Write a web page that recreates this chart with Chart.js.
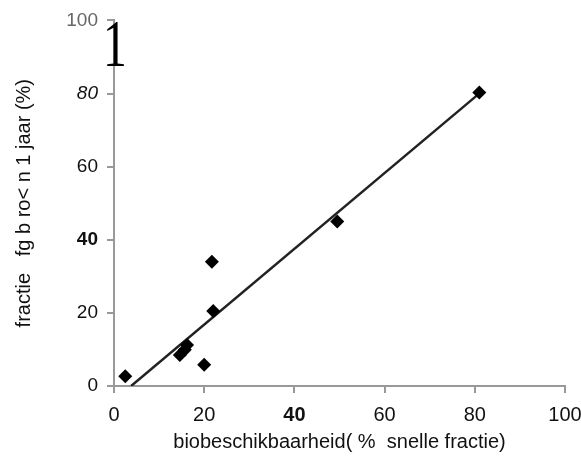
<!DOCTYPE html>
<html>
<head>
  <title>Biobeschikbaarheid</title>
  <script src="https://cdn.jsdelivr.net/npm/chart.js"></script>
  <style>
    html, body { margin: 0; padding: 0; background: #fff; }
  </style>
</head>
<body>
  <canvas id="chart" width="581" height="460"></canvas>
  <script>
    // meetpunten: biobeschikbaarheid (x) tegen fractie afgebroken (y)
    const bioX = [2.5, 14.6, 15.7, 16.2, 20, 21.7, 22, 49.5, 81];
    const fractieY = [2.7, 8.5, 9.9, 11.2, 5.8, 34, 20.5, 45, 80.3];

    // regressielijn, begin- en eindpunt
    const lijnX = [3.8, 80.5];
    const lijnY = [0, 79.5];

    const ticks = [0, 20, 40, 60, 80, 100];

    const punten = bioX.map((x, i) => ({ x: x, y: fractieY[i] }));
    const lijn = lijnX.map((x, i) => ({ x: x, y: lijnY[i] }));

    const family = '"Liberation Sans", Arial, sans-serif';

    // de losse "1" bovenaan de y-as
    const topMark = {
      id: 'topMark',
      afterDraw(chart) {
        const c = chart.ctx;
        const y = chart.scales.y;
        c.save();
        c.translate(y.right + 1, 66);
        c.scale(0.7, 1);
        c.fillStyle = '#000';
        c.font = '68px "Liberation Serif", "Times New Roman", serif';
        c.textAlign = 'center';
        c.textBaseline = 'alphabetic';
        c.fillText('1', 0, 0);
        c.restore();
      }
    };

    const ctx = document.getElementById('chart').getContext('2d');
    const chart = new Chart(ctx, {
      type: 'scatter',
      data: {
        datasets: [{
          data: punten,
          pointStyle: 'rectRot',
          pointRadius: 7,
          backgroundColor: '#000',
          borderColor: '#000',
          borderWidth: 0
        }, {
          type: 'line',
          data: lijn,
          borderColor: '#222',
          borderWidth: 2.5,
          pointRadius: 0,
          fill: false
        }]
      },
      options: {
        responsive: false,
        animation: false,
        layout: { padding: { top: 20, right: 0, left: 0, bottom: 0 } },
        plugins: { legend: { display: false }, tooltip: { enabled: false } },
        scales: {
          x: {
            type: 'linear',
            min: 0, max: 100,
            afterBuildTicks: (s) => { s.ticks = ticks.map(v => ({ value: v })); },
            afterFit: (s) => { s.height = 74; s.paddingRight = 16; },
            grid: { drawOnChartArea: false, color: '#999', lineWidth: 2, tickLength: 7 },
            border: { color: '#999', width: 2 },
            ticks: {
              color: '#111',
              padding: 10,
              font: (c) => ({
                family: family, size: 20,
                weight: c.tick && c.tick.value === 40 ? 'bold' : 'normal'
              })
            },
            title: {
              display: true,
              text: 'biobeschikbaarheid( %  snelle fractie)',
              color: '#111',
              font: { family: family, size: 20 },
              padding: { top: 0, bottom: 6 }
            }
          },
          y: {
            type: 'linear',
            min: 0, max: 100,
            afterBuildTicks: (s) => { s.ticks = ticks.map(v => ({ value: v })); },
            afterFit: (s) => { s.width = 114; },
            grid: { drawOnChartArea: false, color: '#999', lineWidth: 2, tickLength: 7 },
            border: { color: '#999', width: 2 },
            ticks: {
              color: (c) => c.tick && c.tick.value === 100 ? '#666' : '#111',
              padding: 9,
              font: (c) => {
                const v = c.tick ? c.tick.value : 0;
                return {
                  family: family,
                  size: 19,
                  weight: v === 40 ? 'bold' : 'normal',
                  style: v === 80 ? 'italic' : 'normal'
                };
              }
            },
            title: {
              display: true,
              text: 'fractie   fg b ro< n 1 jaar (%)',
              color: '#111',
              font: { family: family, size: 20 },
              padding: { top: 12, bottom: 4 }
            }
          }
        }
      },
      plugins: [topMark]
    });
  </script>
</body>
</html>
